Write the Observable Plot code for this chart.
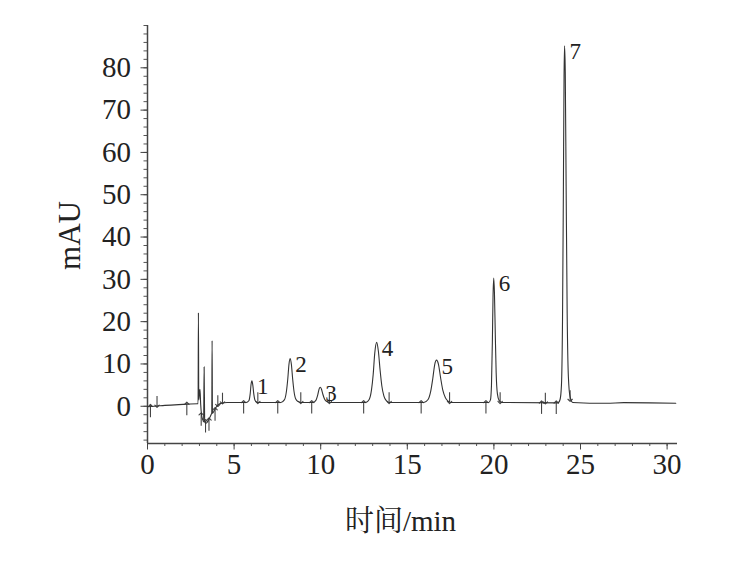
<!DOCTYPE html>
<html>
<head>
<meta charset="utf-8">
<script src="https://cdn.jsdelivr.net/npm/d3@7"></script>
<script src="https://cdn.jsdelivr.net/npm/@observablehq/plot@0.6"></script>
<style>
  html, body { margin: 0; padding: 0; background: #fff; }
  svg { display: block; }
  #chart svg, #chart svg text {
    font-family: 'Liberation Serif', 'Noto Serif CJK SC', 'Noto Sans CJK SC', serif !important;
  }
</style>
</head>
<body>
<div id="chart"></div>
<script>
// Retention time (min) and detector signal (mAU)
const traceTime = [
  0.00, 0.40, 1.00, 1.80, 2.30, 2.88,
  2.92, 2.94, 2.96, 3.00, 3.03, 3.07, 3.12, 3.19, 3.24, 3.27, 3.30, 3.38, 3.48, 3.58, 3.67, 3.71, 3.73, 3.75, 3.82, 3.92, 4.05, 4.25, 4.60,
  5.70, 5.85, 5.93, 5.98, 6.03, 6.08, 6.14, 6.22, 6.35,
  7.70, 7.90, 8.02, 8.10, 8.17, 8.24, 8.31, 8.38, 8.46, 8.56, 8.70, 8.85,
  9.55, 9.72, 9.83, 9.91, 9.97, 10.04, 10.12, 10.22, 10.35, 10.55,
  12.60, 12.80, 12.93, 13.03, 13.12, 13.23, 13.33, 13.43, 13.53, 13.65, 13.80, 13.95,
  15.95, 16.20, 16.35, 16.47, 16.58, 16.69, 16.80, 16.92, 17.05, 17.20, 17.35, 17.50,
  19.70, 19.80, 19.86, 19.91, 19.95, 19.99, 20.03, 20.08, 20.13, 20.20, 20.30, 20.45,
  23.70, 23.82, 23.90, 23.96, 24.01, 24.05, 24.08, 24.12, 24.17, 24.23, 24.30, 24.40, 24.55,
  26.50, 27.50, 29.00, 30.50
];
const traceSignal = [
  -0.1, 0.0, 0.2, 0.4, 0.5, 0.6,
  0.6, 22.1, 1.5, 3.2, 4.0, 0.5, -2.0, -3.2, -3.5, 9.3, -3.7, -4.0, -3.6, -2.8, -2.0, -1.6, 15.5, -1.7, -1.3, -0.5, 0.2, 0.7, 0.9,
  0.9, 1.3, 3.0, 5.2, 6.0, 5.0, 2.8, 1.3, 0.9,
  0.9, 1.5, 3.5, 6.5, 10.0, 11.3, 9.8, 6.5, 3.5, 1.7, 1.1, 0.9,
  0.9, 1.4, 2.7, 4.1, 4.5, 4.1, 2.9, 1.7, 1.1, 0.9,
  0.9, 1.6, 3.8, 7.5, 12.5, 15.1, 13.0, 8.5, 4.8, 2.4, 1.3, 0.9,
  0.9, 1.6, 3.5, 6.5, 9.8, 10.9, 9.9, 6.8, 3.8, 2.0, 1.2, 0.9,
  0.9, 1.5, 5.0, 15.0, 26.0, 30.3, 27.0, 17.0, 8.0, 3.0, 1.4, 0.9,
  0.8, 1.6, 5.0, 20.0, 50.0, 78.0, 85.2, 79.0, 52.0, 22.0, 7.0, 2.2, 0.9,
  0.7, 0.85, 0.8, 0.7
];

// Numbered peaks: label, apex time, apex height
const peakLabels = ["1", "2", "3", "4", "5", "6", "7"];
const peakTimes = [6.03, 8.24, 9.97, 13.23, 16.69, 19.99, 24.08];
const peakHeights = [6.0, 11.3, 4.5, 15.1, 10.9, 30.3, 85.2];

// Integration event markers: time and baseline level
const startMarkTimes = [0.17, 2.27, 3.10, 3.35, 3.55, 3.90, 5.55, 7.52, 9.48, 12.48, 15.80, 19.54, 22.75, 23.60];
const startMarkLevels = [0.0, 0.5, -2.0, -3.6, -3.2, -0.8, 0.9, 0.9, 0.9, 0.9, 0.9, 0.9, 0.8, 0.8];
const endMarkTimes = [0.55, 4.06, 4.33, 6.37, 8.85, 10.50, 13.95, 17.44, 20.36, 22.97, 24.40];
const endMarkLevels = [0.0, 0.2, 0.8, 0.9, 0.9, 0.9, 0.9, 0.9, 0.9, 0.8, 1.4];

// Axis ticks
const xTicks = [0, 5, 10, 15, 20, 25, 30];
const xMinorTicks = [0,1,2,3,4,5,6,7,8,9,10,11,12,13,14,15,16,17,18,19,20,21,22,23,24,25,26,27,28,29,30];
const yTicks = [0, 10, 20, 30, 40, 50, 60, 70, 80];
const yMinorTicks = [-8,-6,-4,-2,0,2,4,6,8,10,12,14,16,18,20,22,24,26,28,30,32,34,36,38,40,42,44,46,48,50,52,54,56,58,60,62,64,66,68,70,72,74,76,78,80,82,84,86,88,90];

const xTitle = "时间/min";
const yTitle = "mAU";

const trace = traceTime.map((t, i) => ({t, v: traceSignal[i]}));
const peaks = peakLabels.map((label, i) => ({label, t: peakTimes[i], v: peakHeights[i]}));
const startMarks = startMarkTimes.map((t, i) => ({t, v: startMarkLevels[i]}));
const endMarks = endMarkTimes.map((t, i) => ({t, v: endMarkLevels[i]}));

const ink = "#222";

const chart = Plot.plot({
  width: 731,
  height: 562,
  marginLeft: 147,
  marginRight: 54,
  marginTop: 25,
  marginBottom: 119,
  x: {domain: [0, 30.6], label: null},
  y: {domain: [-8.8, 90], label: null},
  style: {fontSize: "29px", background: "#fff", color: ink},
  marks: [
    Plot.axisY(yMinorTicks, {tickSize: 3.5, text: null, stroke: "#555"}),
    Plot.axisY(yTicks, {tickSize: 6.5, tickPadding: 10, stroke: "#444", fill: ink, fontSize: 29}),
    Plot.axisX(xMinorTicks, {tickSize: 3, text: null, stroke: "#555"}),
    Plot.axisX(xTicks, {tickSize: 6.5, tickPadding: 3, stroke: "#444", fill: ink, fontSize: 29}),
    Plot.ruleX([0], {stroke: "#444", strokeWidth: 1.5}),
    Plot.ruleY([-8.8], {stroke: "#444", strokeWidth: 1.5}),
    Plot.link(startMarks, {
      x1: "t", x2: "t",
      y1: d => d.v - 2.6, y2: d => d.v + 0.2,
      stroke: "#444", strokeWidth: 1.1, markerEnd: "arrow"
    }),
    Plot.link(endMarks, {
      x1: "t", x2: "t",
      y1: d => d.v + 2.4, y2: d => d.v,
      stroke: "#444", strokeWidth: 1.1, markerEnd: "arrow"
    }),
    Plot.line(trace, {x: "t", y: "v", curve: "monotone-x", stroke: "#333", strokeWidth: 1.1}),
    Plot.text(peaks, {
      x: "t", y: "v", text: "label",
      textAnchor: "start", lineAnchor: "middle",
      dx: 5, dy: 6, fontSize: 23, fill: ink
    }),
    Plot.text([yTitle], {
      frameAnchor: "left", textAnchor: "middle", lineAnchor: "middle",
      rotate: -90, dx: -77, dy: 1,
      fontSize: 31, fill: ink
    }),
    Plot.text([xTitle], {
      frameAnchor: "bottom", textAnchor: "middle", lineAnchor: "middle",
      dx: -12, dy: 78,
      fontSize: 29, fill: ink
    })
  ]
});

document.getElementById("chart").appendChild(chart);
</script>
</body>
</html>
